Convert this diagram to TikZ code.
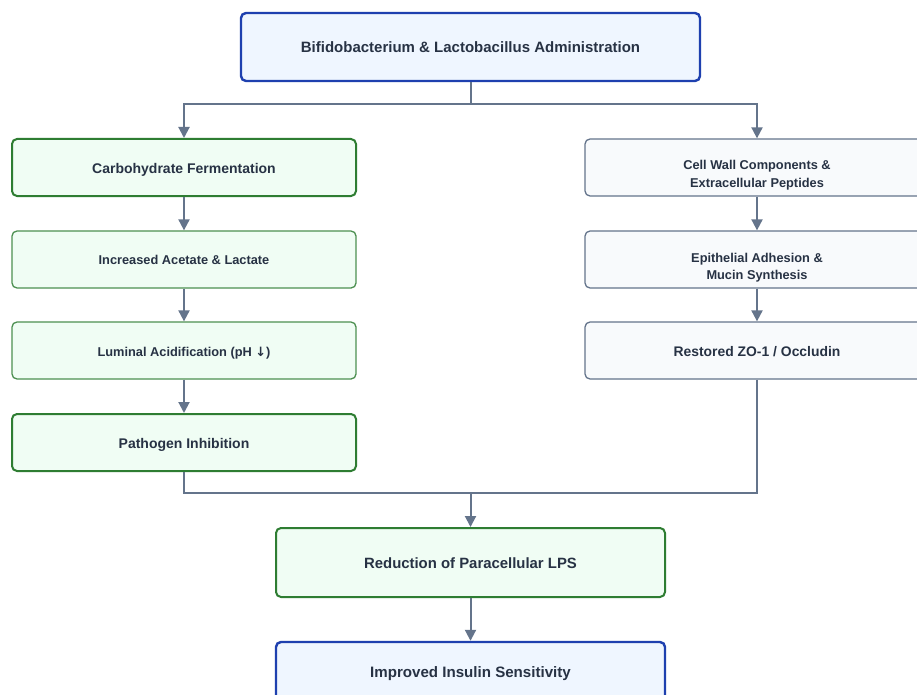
\documentclass[tikz,border=0pt]{standalone}
\usepackage{fontspec}
\setmainfont{Liberation Sans}
\newfontfamily\symfont{DejaVu Sans}
\usetikzlibrary{arrows.meta}
\definecolor{ink}{HTML}{273244}
\definecolor{wire}{HTML}{64748B}
\definecolor{bluefill}{HTML}{EFF6FF}
\definecolor{blueline}{HTML}{1E40AF}
\definecolor{greenfill}{HTML}{F0FDF4}
\definecolor{greenline}{HTML}{2E7D32}
\definecolor{grayfill}{HTML}{F8FAFC}
\definecolor{grayline}{HTML}{64748B}
\tikzset{
  basebox/.style={rectangle, rounded corners=5pt, align=center, text=ink, font=\bfseries, inner sep=2pt, text depth=0pt},
  bluebox/.style={basebox, draw=blueline, fill=bluefill, line width=2.4pt},
  greenbold/.style={basebox, draw=greenline, fill=greenfill, line width=2pt},
  greenthin/.style={basebox, draw=greenline!85, fill=greenfill, line width=1.3pt},
  graybox/.style={basebox, draw=grayline, fill=grayfill, line width=1.3pt},
  twoline/.style={text height=40pt, text depth=0pt},
  colbox/.style={minimum width=344pt, minimum height=57pt},
  wideb/.style={minimum width=389pt, minimum height=69pt},
  flow/.style={draw=wire, line width=2pt, -{Triangle[width=11pt,length=11pt]}},
  plain/.style={draw=wire, line width=2pt}
}
\begin{document}
\begin{tikzpicture}[x=1pt,y=-1pt]
\useasboundingbox (0,0) rectangle (917,695);
\clip (0,0) rectangle (917,695);
\fill[white] (0,0) rectangle (917,695);

% source
\node[bluebox, minimum width=459pt, minimum height=68pt, text height=10.7pt, font=\bfseries\fontsize{15}{18}\selectfont] (src) at (470.5,47) {Bifidobacterium \& Lactobacillus Administration};

% left branch: fermentation pathway
\node[greenbold, colbox, text height=13pt, font=\bfseries\fontsize{14}{17}\selectfont] (carb) at (184,167.5) {Carbohydrate Fermentation};
\node[greenthin, colbox, text height=10.4pt, font=\bfseries\fontsize{12.8}{15}\selectfont] (acet) at (184,259.5) {Increased Acetate \& Lactate};
\node[greenthin, colbox, text height=12.2pt, font=\bfseries\fontsize{12.8}{15}\selectfont] (acid) at (184,350.5) {Luminal Acidification (pH {\symfont ↓})};
\node[greenbold, colbox, text height=12pt, font=\bfseries\fontsize{14}{17}\selectfont] (path) at (184,442.5) {Pathogen Inhibition};

% right branch: barrier pathway
\node[graybox, colbox, twoline, font=\bfseries\fontsize{12.8}{17.7}\selectfont] (wall) at (757,167.5) {Cell Wall Components \&\\Extracellular Peptides};
\node[graybox, colbox, twoline, font=\bfseries\fontsize{12.8}{17}\selectfont] (adh) at (757,259.5) {Epithelial Adhesion \&\\Mucin Synthesis};
\node[graybox, colbox, text height=12pt, font=\bfseries\fontsize{13.9}{17}\selectfont] (zo) at (757,350.5) {Restored ZO-1 / Occludin};

% outcome
\node[greenbold, wideb, text height=12.4pt, font=\bfseries\fontsize{14.9}{18}\selectfont] (lps) at (470.5,562.5) {Reduction of Paracellular LPS};
\node[bluebox, minimum width=389pt, minimum height=59pt, text height=11pt, font=\bfseries\fontsize{15.1}{18}\selectfont] (ins) at (470.5,671.5) {Improved Insulin Sensitivity};

% split
\coordinate (split) at (470.5,104);
\draw[plain] (src.south) -- (split);
\draw[flow] (split) -| (carb.north);
\draw[flow] (split) -| (wall.north);

% chains
\draw[flow] (carb) -- (acet);
\draw[flow] (acet) -- (acid);
\draw[flow] (acid) -- (path);
\draw[flow] (wall) -- (adh);
\draw[flow] (adh) -- (zo);

% merge
\coordinate (merge) at (470.5,493);
\draw[plain] (path.south) |- (merge);
\draw[plain] (zo.south) |- (merge);
\draw[flow] (merge) -- (lps.north);
\draw[flow] (lps) -- (ins);
\end{tikzpicture}
\end{document}
